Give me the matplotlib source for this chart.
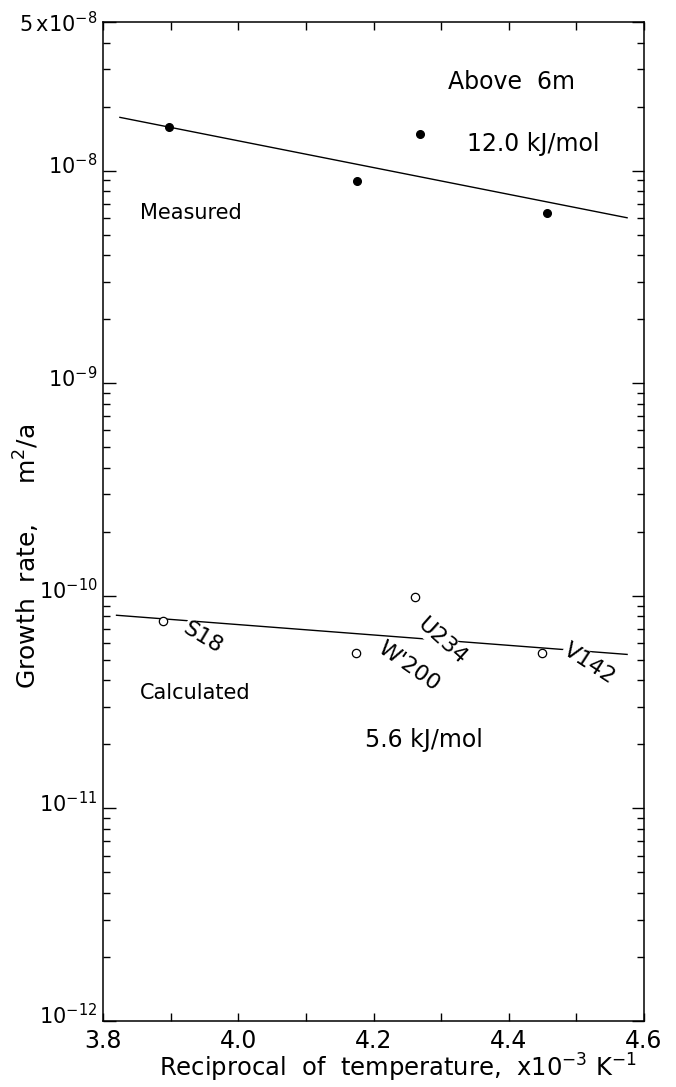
import matplotlib
matplotlib.use("Agg")
import matplotlib.pyplot as plt
import matplotlib.transforms as mtransforms
from matplotlib.ticker import LogLocator, NullFormatter, MultipleLocator

plt.rcParams['font.family'] = ['DejaVu Sans']
plt.rcParams['mathtext.default'] = 'regular'

# reciprocal of temperature (x10^-3 K^-1) and growth rates (m^2/a)
measured_x = [3.898, 4.176, 4.269, 4.457]
measured_y = [1.6e-8, 8.9e-9, 1.48e-8, 6.3e-9]

calc_names = ["S18", "W'200", "U234", "V142"]
calc_x = [3.888, 4.174, 4.262, 4.449]
calc_y = [7.6e-11, 5.4e-11, 9.9e-11, 5.4e-11]

# fitted lines (end points)
measured_fit_x = [3.825, 4.575]
measured_fit_y = [1.78e-8, 6.0e-9]
calc_fit_x = [3.82, 4.575]
calc_fit_y = [8.1e-11, 5.3e-11]

x_ticks = [3.8, 4.0, 4.2, 4.4, 4.6]
x_tick_labels = ['3.8', '4.0', '4.2', '4.4', '4.6']
y_ticks = [1e-12, 1e-11, 1e-10, 1e-9, 1e-8, 5e-8]
y_tick_labels = ['$10^{-12}$', '$10^{-11}$', '$10^{-10}$', '$10^{-9}$',
                 '$10^{-8}$', '$5\\,x10^{-8}$']

# label offsets (points) and rotations for the calculated sites
label_offsets = [(29, -12), (38, -10), (19, -32), (34, -8)]
label_rot = [-31, -35, -42, -33]

W, H = 676, 1087
fig = plt.figure(figsize=(W / 100, H / 100), dpi=100)
ax = fig.add_axes([103 / W, 66 / H, 541 / W, 999 / H])

ax.set_yscale('log')
ax.set_xlim(3.8, 4.6)
ax.set_ylim(1e-12, 5e-8)

ax.plot(measured_fit_x, measured_fit_y, color='black', lw=1.0, zorder=2)
ax.plot(calc_fit_x, calc_fit_y, color='black', lw=1.0, zorder=2)
ax.plot(measured_x, measured_y, 'o', color='black', ms=5.5, zorder=4)
ax.plot(calc_x, calc_y, 'o', mfc='white', mec='black', mew=0.9, ms=6, zorder=4)

for name, x, y, off, rot in zip(calc_names, calc_x, calc_y, label_offsets, label_rot):
    ax.annotate(name, (x, y), xytext=off, textcoords='offset points',
                ha='center', va='center', rotation=rot, fontsize=16,
                rotation_mode='anchor', zorder=3,
                bbox=dict(fc='white', ec='none', pad=0.5))

ax.text(4.31, 2.6e-8, 'Above  6m', fontsize=17, ha='left', va='center')
ax.text(4.338, 1.34e-8, '12.0 kJ/mol', fontsize=17, ha='left', va='center')
ax.text(3.855, 6.3e-9, 'Measured', fontsize=15, ha='left', va='center')
ax.text(3.855, 3.5e-11, 'Calculated', fontsize=15, ha='left', va='center')
ax.text(4.188, 2.1e-11, '5.6 kJ/mol', fontsize=17, ha='left', va='center')

ax.set_xticks(x_ticks)
ax.set_xticklabels(x_tick_labels)
ax.xaxis.set_minor_locator(MultipleLocator(0.1))
ax.set_yticks(y_ticks)
ax.set_yticklabels(y_tick_labels)
ax.yaxis.set_minor_locator(LogLocator(base=10, subs=range(2, 10), numticks=20))
ax.yaxis.set_minor_formatter(NullFormatter())

ax.tick_params(axis='both', which='both', direction='in', top=True, right=True,
               width=1.0)
ax.tick_params(axis='x', labelsize=17)
ax.tick_params(axis='y', labelsize=15)
ax.tick_params(axis='y', which='major', length=9, pad=4)
ax.tick_params(axis='y', which='minor', length=5)
ax.tick_params(axis='x', which='both', length=6, pad=6)
for s in ax.spines.values():
    s.set_linewidth(1.1)

# lift y tick labels so the "10" sits on the tick (not the top one)
shift = mtransforms.ScaledTranslation(0, 5 / 72, fig.dpi_scale_trans)
for lab in ax.get_yticklabels()[:-1]:
    lab.set_transform(lab.get_transform() + shift)

fig.text(398 / W, (H - 1068) / H,
         'Reciprocal  of  temperature,  x10$^{-3}$ K$^{-1}$',
         fontsize=17.5, ha='center', va='center')
fig.text(27 / W, (H - 556) / H, 'Growth  rate,     m$^{2}$/a', fontsize=18,
         rotation=90, ha='center', va='center')

fig.savefig('out.png', dpi=100, facecolor='white')
